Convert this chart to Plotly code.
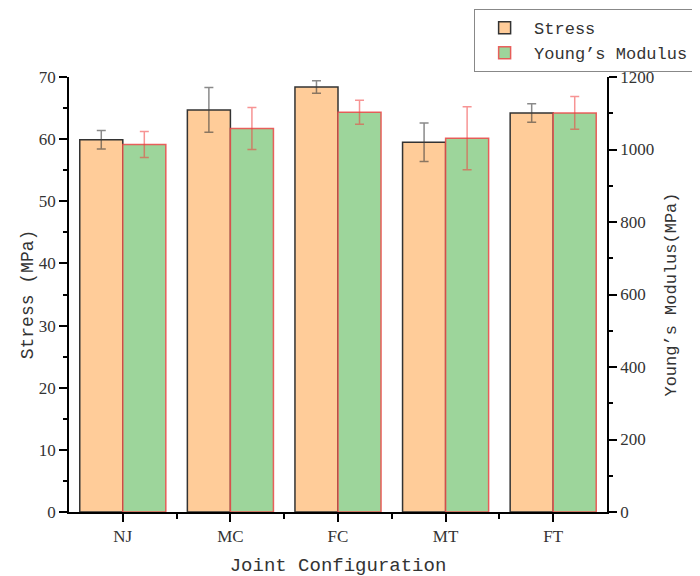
import plotly.graph_objects as go

categories = ["NJ", "MC", "FC", "MT", "FT"]
stress = [59.9, 64.7, 68.4, 59.5, 64.2]
stress_err = [1.5, 3.6, 1.0, 3.1, 1.5]
modulus = [1014, 1058, 1103, 1031, 1101]
modulus_err = [36, 58, 33, 87, 45]

xpos = list(range(len(categories)))

mono = "Liberation Mono"
serif = "Liberation Serif"

fig = go.Figure()
fig.add_trace(go.Bar(
    x=xpos, y=stress, name="Stress", yaxis="y",
    width=0.4, offset=-0.4,
    marker=dict(color="#FFCC99", line=dict(color="#333333", width=1.5)),
    error_y=dict(type="data", array=stress_err, visible=True,
                 color="rgba(60,60,60,0.6)", thickness=1.5, width=4.5),
))
fig.add_trace(go.Bar(
    x=xpos, y=modulus, name="Young\u2019s Modulus", yaxis="y2",
    width=0.4, offset=0,
    marker=dict(color="#9DD59B", line=dict(color="rgba(235,70,70,0.85)", width=1.5)),
    error_y=dict(type="data", array=modulus_err, visible=True,
                 color="rgba(240,60,60,0.55)", thickness=1.5, width=4.5),
))

fig.update_layout(
    width=700, height=576,
    margin=dict(l=61, r=101, t=69, b=72, autoexpand=False),
    paper_bgcolor="white", plot_bgcolor="white",
    barmode="overlay",
    font=dict(family=serif, color="#333333", size=16),
    xaxis=dict(
        range=[-0.5, 4.5], tickmode="array", tickvals=xpos, ticktext=categories,
        showline=True, linecolor="black", linewidth=1.5, mirror=False,
        ticks="outside", ticklen=8, tickwidth=1.5, tickcolor="black",
        minor=dict(tickvals=[i + 0.5 for i in xpos[:-1]], ticks="outside",
                   ticklen=5, tickwidth=1.5, tickcolor="black"),
        showgrid=False, zeroline=False,
        tickfont=dict(family=serif, size=17),
        title=dict(text="Joint Configuration", font=dict(family=mono, size=19), standoff=13),
    ),
    yaxis=dict(
        range=[0, 70], dtick=10, tick0=0,
        showline=True, linecolor="black", linewidth=1.5,
        ticks="outside", ticklen=8, tickwidth=1.5, tickcolor="black",
        minor=dict(dtick=5, ticks="outside", ticklen=4, tickwidth=1.5, tickcolor="black"),
        showgrid=False, zeroline=False,
        tickfont=dict(family=serif, size=17),
        title=dict(text="Stress (MPa)", font=dict(family=mono, size=18), standoff=1),
    ),
    yaxis2=dict(
        range=[0, 1200], dtick=200, tick0=0, overlaying="y", side="right",
        showline=True, linecolor="black", linewidth=1.5,
        ticks="outside", ticklen=8, tickwidth=1.5, tickcolor="black",
        minor=dict(dtick=100, ticks="outside", ticklen=4, tickwidth=1.5, tickcolor="black"),
        showgrid=False, zeroline=False,
        tickfont=dict(family=serif, size=17),
        title=dict(text="Young\u2019s Modulus(MPa)", font=dict(family=mono, size=17), standoff=11),
    ),
    legend=dict(
        x=0.753, y=1.156, xanchor="left", yanchor="top",
        bordercolor="#888888", borderwidth=1, bgcolor="white",
        font=dict(family=mono, size=17, color="#333333"),
        tracegroupgap=0, itemwidth=49,
    ),
    showlegend=True,
)

fig.write_html("out.html")
